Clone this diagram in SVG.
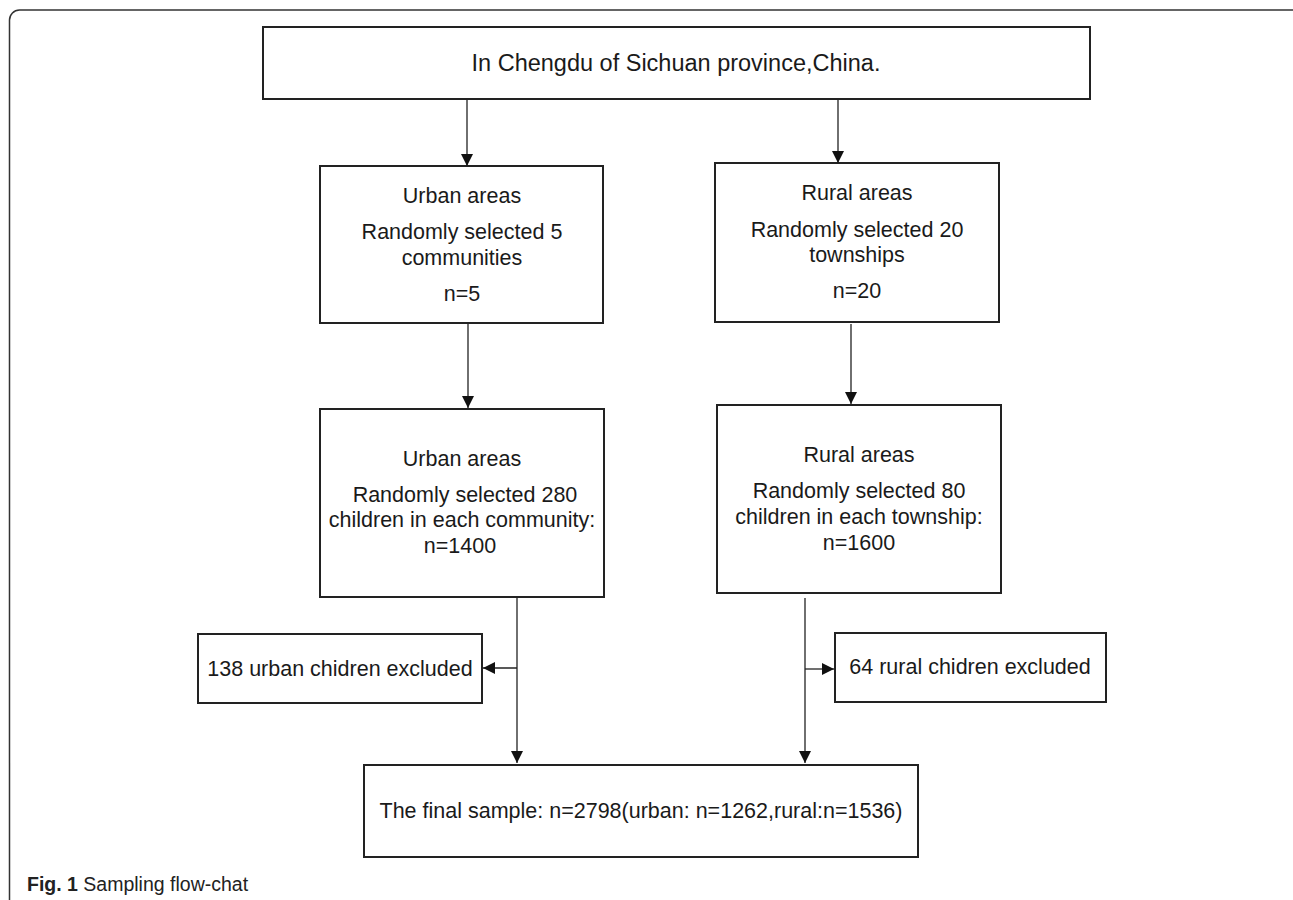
<svg xmlns="http://www.w3.org/2000/svg" width="1293" height="900" viewBox="0 0 1293 900">
<style>
.box{fill:#fff;stroke:#222;stroke-width:2}
.t{font-family:"Liberation Sans",Arial,sans-serif;font-size:21.5px;fill:#1a1a1a;text-anchor:middle}
.big{font-size:23.5px}
.c{fill:none;stroke:#222;stroke-width:1.3}
.frame{fill:none;stroke:#333;stroke-width:1.5}
.cap{font-family:"Liberation Sans",Arial,sans-serif;font-size:19.5px;fill:#222}
</style>
<defs>
<marker id="ah" viewBox="0 0 12 12" refX="12" refY="6" markerWidth="12" markerHeight="12" markerUnits="userSpaceOnUse" orient="auto">
<path d="M0,0 L12,6 L0,12 Z" fill="#111"/>
</marker>
</defs>
<rect class="frame" x="9.5" y="10" width="1292" height="1000" rx="10"/>
<g id="top">
<rect class="box" x="263" y="27" width="827" height="72"/>
<text class="t big" x="676" y="71">In Chengdu of Sichuan province,China.</text>
</g>
<g id="urban1">
<rect class="box" x="320" y="166" width="283" height="157"/>
<text class="t" x="462" y="203">Urban areas</text>
<text class="t" x="462" y="239">Randomly selected 5</text>
<text class="t" x="462" y="265">communities</text>
<text class="t" x="462" y="301">n=5</text>
</g>
<g id="rural1">
<rect class="box" x="715" y="163" width="284" height="159"/>
<text class="t" x="857" y="200">Rural areas</text>
<text class="t" x="857" y="237">Randomly selected 20</text>
<text class="t" x="857" y="262">townships</text>
<text class="t" x="857" y="298">n=20</text>
</g>
<g id="urban2">
<rect class="box" x="320" y="409" width="284" height="188"/>
<text class="t" x="462" y="466">Urban areas</text>
<text class="t" x="465" y="502">Randomly selected 280</text>
<text class="t" x="462" y="527">children in each community:</text>
<text class="t" x="460" y="553">n=1400</text>
</g>
<g id="rural2">
<rect class="box" x="717" y="405" width="284" height="188"/>
<text class="t" x="859" y="462">Rural areas</text>
<text class="t" x="859" y="498">Randomly selected 80</text>
<text class="t" x="859" y="524">children in each township:</text>
<text class="t" x="859" y="550">n=1600</text>
</g>
<g id="excl-urban">
<rect class="box" x="198" y="634" width="284" height="69"/>
<text class="t" x="340" y="676">138 urban chidren excluded</text>
</g>
<g id="excl-rural">
<rect class="box" x="835" y="633" width="271" height="69"/>
<text class="t" x="970" y="674">64 rural chidren excluded</text>
</g>
<g id="final">
<rect class="box" x="364" y="765" width="554" height="92"/>
<text class="t" x="641" y="818">The final sample: n=2798(urban: n=1262,rural:n=1536)</text>
</g>
<g id="connectors">
<line class="c" x1="467" y1="99" x2="467" y2="166" marker-end="url(#ah)"/>
<line class="c" x1="838" y1="99" x2="838" y2="163" marker-end="url(#ah)"/>
<line class="c" x1="468" y1="323" x2="468" y2="408" marker-end="url(#ah)"/>
<line class="c" x1="851" y1="324" x2="851" y2="404" marker-end="url(#ah)"/>
<line class="c" x1="517" y1="597" x2="517" y2="763" marker-end="url(#ah)"/>
<line class="c" x1="517" y1="668" x2="483" y2="668" marker-end="url(#ah)"/>
<line class="c" x1="805" y1="598" x2="805" y2="763" marker-end="url(#ah)"/>
<line class="c" x1="805" y1="669" x2="834" y2="669" marker-end="url(#ah)"/>
</g>
<text class="cap" x="27" y="891"><tspan font-weight="bold">Fig. 1</tspan> Sampling flow-chat</text>
</svg>
